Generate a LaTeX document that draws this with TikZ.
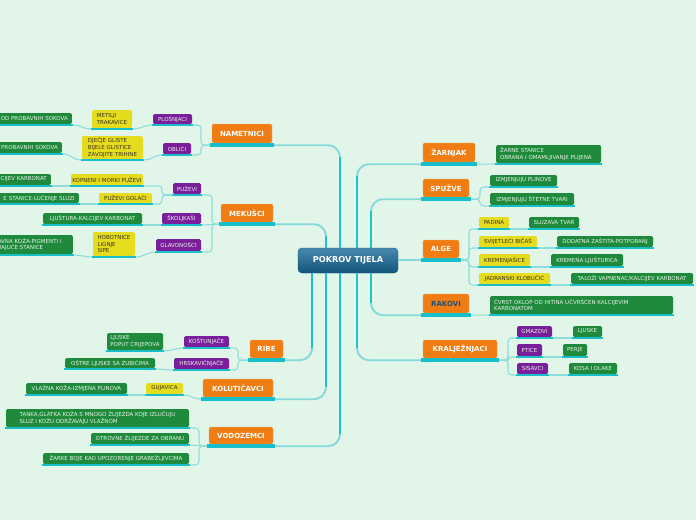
\documentclass[tikz,border=0pt]{standalone}
\usepackage{fontspec}
\setmainfont{DejaVu Sans}
\usetikzlibrary{calc}
\definecolor{bgc}{HTML}{E1F6E8}
\definecolor{org}{HTML}{F07D14}
\definecolor{orgb}{HTML}{F5A55C}
\definecolor{prp}{HTML}{7A1E9C}
\definecolor{grn}{HTML}{1F8A3C}
\definecolor{ylw}{HTML}{E6DC1E}
\definecolor{ydk}{HTML}{3A3418}
\definecolor{ltx}{HTML}{E8F3E6}
\definecolor{barc}{HTML}{18BFC8}
\definecolor{lline}{HTML}{8EDCDC}
\definecolor{tlight}{HTML}{84D9DB}
\definecolor{tdark}{HTML}{1DC2CA}
\definecolor{rootA}{HTML}{4788AE}
\definecolor{rootB}{HTML}{14557A}
\definecolor{rakc}{HTML}{1F4F7A}
\tikzset{
  box/.style={rounded corners=1.5pt, inner sep=0pt, align=left,
    font=\fontsize{5.5}{6.6}\selectfont},
  gbox/.style={box, fill=grn, text=ltx},
  pbox/.style={box, fill=prp, text=ltx},
  ybox/.style={box, fill=ylw, text=ydk},
  obox/.style={rounded corners=2pt, inner sep=0pt, fill=org, draw=orgb,
    line width=0.4pt, text=white, font=\fontsize{7}{8}\selectfont\bfseries},
  rootbox/.style={rounded corners=4pt, inner sep=0pt, top color=rootA,
    bottom color=rootB, draw=rootB, line width=0.4pt, text=white,
    font=\fontsize{8.2}{10}\selectfont\bfseries},
  sub/.style={draw=lline, line width=1.1pt, rounded corners=3.5pt},
  trl/.style={draw=tlight, line width=1.9pt, rounded corners=12pt},
  trd/.style={draw=tdark, line width=2.6pt},
}
% style, name, x1, y1, x2, y2, bar thickness, text
\newcommand\mmbox[8]{%
  \node[#1, minimum width={#5-(#3)}, minimum height={#6-(#4)}] (#2)
    at ({(#3+#5)/2},{(#4+#6)/2}) {#8};
  \fill[barc] ($(#2.south west)+(-#7/2,0)$) rectangle ($(#2.south east)+(#7/2,#7)$);
  \coordinate (#2-l) at ($(#2.south west)+(-#7/2,#7/2)$);
  \coordinate (#2-r) at ($(#2.south east)+(#7/2,#7/2)$);
}
% style, name, x2, y1, y2, text width, text  (node cut by the left edge)
\newcommand\mmclip[7]{%
  \node[#1, anchor=east, inner xsep=4pt, text width=#6,
    minimum height={#5-(#4)}] (#2) at (#3,{(#4+#5)/2}) {#7};
  \fill[barc] ($(#2.south west)+(-0.8,0)$) rectangle ($(#2.south east)+(0.8,1.6)$);
  \coordinate (#2-l) at ($(#2.south west)+(-0.8,0.8)$);
  \coordinate (#2-r) at ($(#2.south east)+(0.8,0.8)$);
}
\begin{document}
\begin{tikzpicture}[x=1pt,y=-1pt]
\useasboundingbox (0,0) rectangle (696,520);
\clip (0,0) rectangle (696,520);
\fill[bgc] (0,0) rectangle (696,520);

% root
\node[rootbox, minimum width=100pt, minimum height=25pt] (root) at (348,260.5) {POKROV TIJELA};

% main branches
\mmbox{obox}{nam}{212}{124}{272}{143}{4}{NAMETNICI}
\mmbox{obox}{mek}{221}{204}{273}{222}{4}{MEKUŠCI}
\mmbox{obox}{rib}{250}{340}{283}{358}{4}{RIBE}
\mmbox{obox}{kol}{203}{379}{273}{397}{4}{KOLUTIČAVCI}
\mmbox{obox}{vod}{209}{427}{273}{444}{4}{VODOZEMCI}
\mmbox{obox}{zar}{423}{143}{475}{162}{4}{ŽARNJAK}
\mmbox{obox}{spu}{423}{179}{469}{197}{4}{SPUŽVE}
\mmbox{obox}{alg}{423}{240}{459}{258}{4}{ALGE}
\mmbox{obox,text=rakc}{rak}{423}{294}{469}{313}{4}{RAKOVI}
\mmbox{obox}{kra}{423}{340}{497}{358}{4}{KRALJEŽNJACI}

% NAMETNICI
\mmbox{pbox}{plo}{153}{114}{192}{124}{1.6}{PLOŠNJACI}
\mmbox{pbox}{obl}{163}{143}{191}{154}{1.6}{OBLIĆI}
\mmbox{ybox}{met}{92}{110}{132}{128}{1.6}{METILJI\\TRAKAVICE}
\mmbox{ybox}{dje}{82}{136}{143}{159}{1.6}{DJEČJE GLISTE\\BIJELE GLISTICE\\ZAVOJITE TRIHINE}
\mmclip{gbox,align=right}{odp}{72}{113}{124}{150pt}{OD PROBAVNIH SOKOVA}
\mmclip{gbox,align=right}{pro}{62}{142}{153}{150pt}{PROBAVNIH SOKOVA}

% MEKUSCI
\mmbox{pbox}{puz}{173}{183}{201}{194}{1.6}{PUŽEVI}
\mmbox{pbox}{sko}{162}{213}{201}{224}{1.6}{ŠKOLJKAŠI}
\mmbox{pbox}{gla}{156}{239}{201}{251}{1.6}{GLAVONOŠCI}
\mmbox{ybox}{kop}{71}{174}{143}{185}{1.6}{KOPNENI I MORKI PUŽEVI}
\mmbox{ybox}{gol}{99}{193}{152}{203}{1.6}{PUŽEVI GOLAĆI}
\mmclip{gbox,align=right}{cij}{51}{174}{185}{150pt}{CIJEV KARBONAT}
\mmclip{gbox,align=right}{sta}{79}{193}{203}{150pt}{E STANICE-LUČENJE SLUZI}
\mmbox{gbox}{ljt}{43}{213}{142}{224}{1.6}{LJUŠTURA-KALCIJEV KARBONAT}
\mmbox{ybox}{hob}{93}{232}{135}{256}{1.6}{HOBOTNICE\\LIGNJE\\SIPE}
\mmclip{gbox,align=left}{koz}{73}{235}{254}{71pt}{AVNA KOŽA-PIGMENTI I\\RAJUĆE STANICE}

% RIBE
\mmbox{pbox}{kos}{184}{336}{229}{347}{1.6}{KOŠTUNJAČE}
\mmbox{pbox}{hrs}{174}{358}{229}{369}{1.6}{HRSKAVIČNJAČE}
\mmbox{gbox}{lpc}{107}{333}{163}{350}{1.6}{LJUSKE\\POPUT CRIJEPOVA}
\mmbox{gbox}{ost}{65}{358}{155}{368}{1.6}{OŠTRE LJUSKE SA ZUBIĆIMA}

% KOLUTICAVCI
\mmbox{ybox}{guj}{146}{383}{183}{394}{1.6}{GUJAVICA}
\mmbox{gbox}{vla}{26}{383}{127}{394}{1.6}{VLAŽNA KOŽA-IZMJENA PLINOVA}

% VODOZEMCI
\mmbox{gbox}{tan}{6}{409}{189}{427}{1.6}{TANKA,GLATKA KOŽA S MNOGO ŽLIJEZDA KOJE IZLUČUJU\\SLUZ I KOŽU ODRŽAVAJU VLAŽNOM}
\mmbox{gbox}{otr}{91}{433}{189}{444}{1.6}{OTROVNE ŽLIJEZDE ZA OBRANU}
\mmbox{gbox}{zbo}{43}{453}{189}{464}{1.6}{ŽARKE BOJE KAO UPOZORENJE GRABEŽLJIVCIMA}

% right side
\mmbox{gbox,text width=97pt}{zst}{496}{145}{601}{163}{1.6}{ŽARNE STANICE\\OBRANA I OMAMLJIVANJE PLIJENA}
\mmbox{gbox}{iz1}{490}{175}{557}{186}{1.6}{IZMJENJUJU PLINOVE}
\mmbox{gbox}{iz2}{490}{193}{574}{205}{1.6}{IZMJENJUJU ŠTETNE TVARI}
\mmbox{ybox}{pad}{479}{217}{509}{228}{1.6}{PADINA}
\mmbox{ybox}{svi}{479}{236}{537}{247}{1.6}{SVIJETLEĆI BIČAŠ}
\mmbox{ybox}{kre}{479}{254}{530}{266}{1.6}{KREMENJAŠICE}
\mmbox{ybox}{jad}{479}{273}{550}{284}{1.6}{JADRANSKI KLOBUČIĆ}
\mmbox{gbox}{slu}{529}{217}{579}{228}{1.6}{SLUZAVA TVAR}
\mmbox{gbox}{dod}{557}{236}{653}{247}{1.6}{DODATNA ZAŠTITA-POTPORANJ}
\mmbox{gbox}{krl}{551}{254}{623}{266}{1.6}{KREMENA LJUŠTURICA}
\mmbox{gbox}{tal}{571}{273}{693}{284}{1.6}{TALOŽI VAPNENAC/KALCIJEV KARBONAT}
\mmbox{gbox,text width=175pt}{cvr}{490}{296}{673}{314}{1.6}{ČVRST OKLOP OD HITINA UČVRŠĆEN KALCIJEVIM\\KARBONATOM}
\mmbox{pbox}{gma}{517}{326}{552}{337}{1.6}{GMAZOVI}
\mmbox{pbox}{pti}{517}{344}{542}{356}{1.6}{PTICE}
\mmbox{pbox}{sis}{517}{363}{548}{374}{1.6}{SISAVCI}
\mmbox{gbox}{ljs}{573}{326}{602}{337}{1.6}{LJUSKE}
\mmbox{gbox}{per}{563}{344}{587}{356}{1.6}{PERJE}
\mmbox{gbox}{kda}{569}{363}{617}{374}{1.6}{KOSA I DLAKE}

% trunk columns
\coordinate (vL1) at (340,0);
\coordinate (vL2) at (326,0);
\coordinate (vL3) at (312,0);
\coordinate (vR1) at (357,0);
\coordinate (vR2) at (371,0);

\draw[trl] (nam-r) -| (root.north -| vL1);
\draw[trl] (vod-r) -| (root.south -| vL1);
\draw[trl] (mek-r) -| (root.north -| vL2);
\draw[trl] (kol-r) -| (root.south -| vL2);
\draw[trl] (rib-r) -| (root.south -| vL3);
\draw[trl] (zar-l) -| (root.north -| vR1);
\draw[trl] (kra-l) -| (root.south -| vR1);
\draw[trl] (spu-l) -| (root.north -| vR2);
\draw[trl] (rak-l) -| (root.south -| vR2);
\draw[trl] (alg-l) -- (root.east |- alg-l);

\draw[trd] ($(nam-r -| vL1)+(0,12)$) -- (root.north -| vL1);
\draw[trd] (root.south -| vL1) -- ($(vod-r -| vL1)+(0,-12)$);
\draw[trd] ($(mek-r -| vL2)+(0,12)$) -- (root.north -| vL2);
\draw[trd] (root.south -| vL2) -- ($(kol-r -| vL2)+(0,-12)$);
\draw[trd] (root.south -| vL3) -- ($(rib-r -| vL3)+(0,-12)$);
\draw[trd] ($(zar-l -| vR1)+(0,12)$) -- (root.north -| vR1);
\draw[trd] (root.south -| vR1) -- ($(kra-l -| vR1)+(0,-12)$);
\draw[trd] ($(spu-l -| vR2)+(0,12)$) -- (root.north -| vR2);
\draw[trd] (root.south -| vR2) -- ($(rak-l -| vR2)+(0,-12)$);

% sub connectors left
\coordinate (cnam) at (201,0);
\draw[sub] (nam-l) -- (nam-l -| cnam) |- (plo-r);
\draw[sub] (nam-l) -- (nam-l -| cnam) |- (obl-r);
\draw[sub] (plo-l) to[out=180,in=0] (met-r);
\draw[sub] (met-l) to[out=180,in=0] (odp-r);
\draw[sub] (obl-l) to[out=180,in=0] (dje-r);
\draw[sub] (dje-l) to[out=180,in=0] (pro-r);
\coordinate (cmek) at (212,0);
\draw[sub] (mek-l) -- (mek-l -| cmek) |- (puz-r);
\draw[sub] (mek-l) -- (sko-r);
\draw[sub] (mek-l) -- (mek-l -| cmek) |- (gla-r);
\coordinate (cpuz) at (162,0);
\draw[sub] (puz-l) -- (puz-l -| cpuz) |- (kop-r);
\draw[sub] (puz-l) -- (puz-l -| cpuz) |- (gol-r);
\draw[sub] (kop-l) -- (cij-r);
\draw[sub] (gol-l) -- (sta-r);
\draw[sub] (sko-l) -- (ljt-r);
\draw[sub] (gla-l) to[out=180,in=0] (hob-r);
\draw[sub] (hob-l) to[out=180,in=0] (koz-r);
\coordinate (crib) at (238,0);
\draw[sub] (rib-l) -- (rib-l -| crib) |- (kos-r);
\draw[sub] (rib-l) -- (rib-l -| crib) |- (hrs-r);
\draw[sub] (kos-l) to[out=180,in=0] (lpc-r);
\draw[sub] (hrs-l) -- (ost-r);
\draw[sub] (kol-l) to[out=180,in=0] (guj-r);
\draw[sub] (guj-l) -- (vla-r);
\coordinate (cvod) at (199,0);
\draw[sub] (vod-l) -- (vod-l -| cvod) |- (tan-r);
\draw[sub] (vod-l) -- (otr-r);
\draw[sub] (vod-l) -- (vod-l -| cvod) |- (zbo-r);

% sub connectors right
\draw[sub] (zar-r) -- (zst-l);
\coordinate (cspu) at (480,0);
\draw[sub] (spu-r) -- (spu-r -| cspu) |- (iz1-l);
\draw[sub] (spu-r) -- (spu-r -| cspu) |- (iz2-l);
\coordinate (calg) at (469,0);
\draw[sub] (alg-r) -- (alg-r -| calg) |- (pad-l);
\draw[sub] (alg-r) -- (alg-r -| calg) |- (svi-l);
\draw[sub] (alg-r) -- (alg-r -| calg) |- (kre-l);
\draw[sub] (alg-r) -- (alg-r -| calg) |- (jad-l);
\draw[sub] (pad-r) -- (slu-l);
\draw[sub] (svi-r) -- (dod-l);
\draw[sub] (kre-r) -- (krl-l);
\draw[sub] (jad-r) -- (tal-l);
\draw[sub] (rak-r) -- (cvr-l);
\coordinate (ckra) at (508,0);
\draw[sub] (kra-r) -- (kra-r -| ckra) |- (gma-l);
\draw[sub] (kra-r) -- (kra-r -| ckra) |- (pti-l);
\draw[sub] (kra-r) -- (kra-r -| ckra) |- (sis-l);
\draw[sub] (gma-r) -- (ljs-l);
\draw[sub] (pti-r) -- (per-l);
\draw[sub] (sis-r) -- (kda-l);
\end{tikzpicture}
\end{document}
